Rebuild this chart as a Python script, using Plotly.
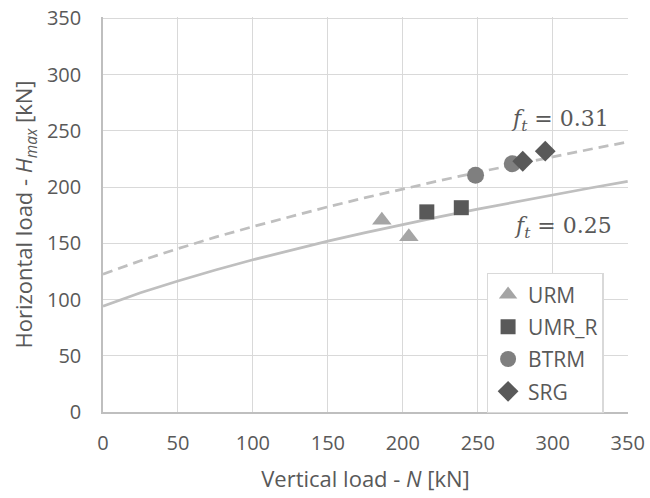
import plotly.graph_objects as go

# Model curves
N_curve = [0, 25, 50, 75, 100, 125, 150, 175, 200, 225, 250, 275, 300, 325, 350]
H_ft025 = [94, 106, 116.5, 126.3, 135.4, 143.9, 151.9, 159.5, 166.8, 173.8, 180.5, 186.9, 193.2, 199.2, 205.1]
H_ft031 = [122.6, 134.5, 145.3, 155.5, 164.9, 173.9, 182.5, 190.6, 198.4, 205.9, 213.2, 220.2, 227.1, 233.7, 240.2]

# Experimental points
URM_N = [186, 204]
URM_H = [170.6, 155.8]
UMR_R_N = [216, 239]
UMR_R_H = [178, 181.7]
BTRM_N = [248.5, 273]
BTRM_H = [210.5, 220.7]
SRG_N = [280, 295]
SRG_H = [223, 232]

ticks = [0, 50, 100, 150, 200, 250, 300, 350]

TXT = "#595959"
fig = go.Figure()
fig.add_trace(go.Scatter(x=N_curve, y=H_ft025, mode="lines", showlegend=False,
                         line=dict(color="#bfbfbf", width=2.75), hoverinfo="skip"))
fig.add_trace(go.Scatter(x=N_curve, y=H_ft031, mode="lines", showlegend=False,
                         line=dict(color="#bfbfbf", width=2.75, dash="10px,6px"), hoverinfo="skip"))

fig.add_trace(go.Scatter(x=URM_N, y=URM_H, mode="markers", name="URM", legendgroup="a",
                         marker=dict(symbol="triangle-up", size=17, color="#a5a5a5")))
fig.add_trace(go.Scatter(x=UMR_R_N, y=UMR_R_H, mode="markers", name="UMR_R", legendgroup="b",
                         marker=dict(symbol="square", size=15, color="#595959")))
fig.add_trace(go.Scatter(x=BTRM_N, y=BTRM_H, mode="markers", name="BTRM", legendgroup="c",
                         marker=dict(symbol="circle", size=17, color="#7f7f7f")))
fig.add_trace(go.Scatter(x=SRG_N, y=SRG_H, mode="markers", name="SRG", legendgroup="d",
                         marker=dict(symbol="diamond", size=16, color="#595959")))

axis_common = dict(tickvals=ticks, showgrid=True, gridcolor="#d9d9d9", gridwidth=1.3,
                   showline=True, linecolor="#bfbfbf", linewidth=1.5, zeroline=False, automargin=False,
                   ticklabeloverflow="allow",
                   tickfont=dict(family="Open Sans", size=20, color=TXT), ticks="")

fig.update_xaxes(**axis_common, range=[0, 350.2], ticklabelstandoff=12,
                 title=dict(text="Vertical load - <i>N</i> [kN]", font=dict(family="Open Sans", size=22, color=TXT), standoff=17))
fig.update_yaxes(**axis_common, range=[0, 351.3], ticklabelstandoff=16,
                 title=dict(text="Horizontal load - <i>H<sub>max</sub></i> [kN]", font=dict(family="Open Sans", size=22, color=TXT), standoff=8))

fig.add_annotation(x=271, y=259.5, xref="x", yref="y", xanchor="left", yanchor="middle", showarrow=False,
                   text="<i>f<sub>t</sub></i> = 0.31", font=dict(family="DejaVu Serif", size=22, color=TXT))
fig.add_annotation(x=273, y=164.5, xref="x", yref="y", xanchor="left", yanchor="middle", showarrow=False,
                   text="<i>f<sub>t</sub></i> = 0.25", font=dict(family="DejaVu Serif", size=22, color=TXT))

fig.update_layout(
    width=650, height=498,
    margin=dict(l=103, r=22, t=17, b=86),
    plot_bgcolor="white", paper_bgcolor="white",
    showlegend=True,
    legend=dict(x=0.731, y=0.352, xanchor="left", yanchor="top",
                bgcolor="white", bordercolor="#d9d9d9", borderwidth=1.3,
                font=dict(family="Open Sans", size=21, color=TXT),
                tracegroupgap=2, traceorder="grouped", itemwidth=30),
)

fig.write_html("out.html", config={"displayModeBar": False},
               post_script="document.body.style.margin='0';document.body.style.overflow='hidden';")
